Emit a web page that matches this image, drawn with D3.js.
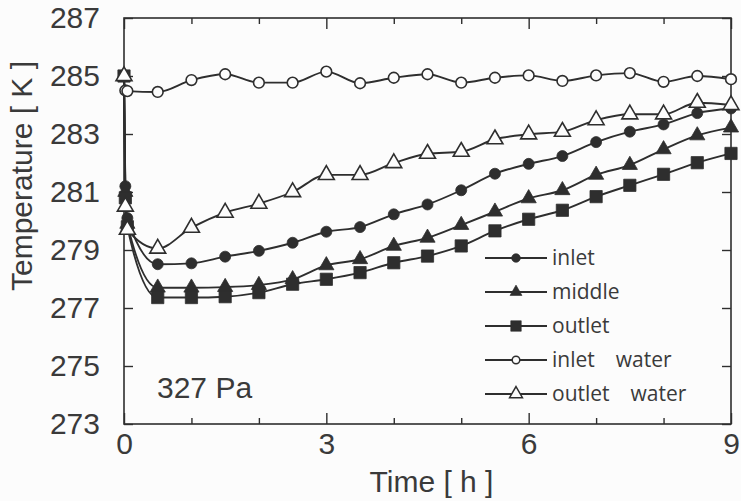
<!DOCTYPE html>
<html><head><meta charset="utf-8">
<script src="https://cdn.jsdelivr.net/npm/d3@7"></script>
<style>body{margin:0;background:#fcfcfc} svg{display:block}</style>
</head><body><svg id="c" width="741" height="501"></svg>
<script>
// ---- data ----
const earlyHours = [0, 0.02, 0.05];
const hours = [0.5,1,1.5,2,2.5,3,3.5,4,4.5,5,5.5,6,6.5,7,7.5,8,8.5,9];
const seriesNames = ["inlet", "middle", "outlet", "inlet\u3000water", "outlet\u3000water"];
const inletEarly = [285.0, 281.2, 280.1];
const middleEarly = [285.0, 281.0, 279.9];
const outletEarly = [285.0, 280.8, 279.8];
const inletWaterEarly = [285.0, 284.5, 284.48];
const outletWaterEarly = [285.0, 280.5, 279.7];
const inlet = [278.51,278.54,278.77,278.97,279.25,279.63,279.79,280.23,280.57,281.06,281.63,281.97,282.24,282.72,283.08,283.33,283.72,283.88];
const middle = [277.70,277.70,277.72,277.79,277.99,278.47,278.68,279.14,279.42,279.86,280.32,280.78,281.06,281.59,281.93,282.47,282.95,283.22];
const outlet = [277.36,277.36,277.39,277.53,277.82,277.99,278.22,278.56,278.79,279.14,279.66,280.06,280.37,280.84,281.23,281.61,282.01,282.33];
const inletWater = [284.45,284.86,285.06,284.77,284.77,285.15,284.75,284.94,285.06,284.77,284.94,285.02,284.83,285.02,285.10,284.80,285.00,284.89];
const outletWater = [279.05,279.77,280.29,280.60,281.00,281.59,281.59,282.00,282.32,282.39,282.82,282.99,283.08,283.48,283.68,283.68,284.08,284.00];
const xMajorTicks = [0, 3, 6, 9];
const xMinorTicks = [1, 2, 4, 5, 7, 8];
const yTicks = [273, 275, 277, 279, 281, 283, 285, 287];
const xTitle = "Time [ h ]";
const yTitle = "Temperature [ K ]";
const note = "327 Pa";

// ---- layout ----
const ink = "#2e2e2e";
const svg = d3.select("#c");
const L = 124, R = 731, T = 18, B = 424;
const x = d3.scaleLinear().domain([0, 9]).range([L, R]);
const y = d3.scaleLinear().domain([273, 287]).range([B, T]);
const font = "'Liberation Sans', Arial, sans-serif";

const series = [
  {name: seriesNames[0], early: inletEarly, vals: inlet, sym: d3.symbolCircle, size: 95, open: false, lsize: 60},
  {name: seriesNames[1], early: middleEarly, vals: middle, sym: d3.symbolTriangle, size: 100, open: false, lsize: 62},
  {name: seriesNames[2], early: outletEarly, vals: outlet, sym: d3.symbolSquare, size: 150, open: false, lsize: 110},
  {name: seriesNames[3], early: inletWaterEarly, vals: inletWater, sym: d3.symbolCircle, size: 90, open: true, lsize: 45},
  {name: seriesNames[4], early: outletWaterEarly, vals: outletWater, sym: d3.symbolTriangle, size: 110, open: true, lsize: 72}
];

// frame
svg.append("rect").attr("x", L).attr("y", T).attr("width", R - L).attr("height", B - T)
  .attr("fill", "none").attr("stroke", ink).attr("stroke-width", 1.6);

function styleAxis(g) {
  g.select(".domain").remove();
  g.selectAll("line").attr("stroke", ink).attr("stroke-width", 1.4);
  g.selectAll("text").attr("fill", "#3a3a3a").style("font-family", font).style("font-size", "30px");
}
// bottom axis
svg.append("g").attr("transform", `translate(0,${B})`)
  .call(d3.axisBottom(x).tickValues(xMajorTicks).tickSizeInner(-11).tickSizeOuter(0).tickPadding(9).tickFormat(d3.format("d")))
  .call(styleAxis);
svg.append("g").attr("transform", `translate(0,${B})`)
  .call(d3.axisBottom(x).tickValues(xMinorTicks).tickSizeInner(-6).tickSizeOuter(0).tickFormat(""))
  .call(styleAxis);
// top axis
svg.append("g").attr("transform", `translate(0,${T})`)
  .call(d3.axisTop(x).tickValues(xMajorTicks).tickSizeInner(-11).tickSizeOuter(0).tickFormat(""))
  .call(styleAxis);
svg.append("g").attr("transform", `translate(0,${T})`)
  .call(d3.axisTop(x).tickValues(xMinorTicks).tickSizeInner(-6).tickSizeOuter(0).tickFormat(""))
  .call(styleAxis);
// left axis
svg.append("g").attr("transform", `translate(${L},0)`)
  .call(d3.axisLeft(y).tickValues(yTicks).tickSizeInner(-9).tickSizeOuter(0).tickPadding(24).tickFormat(d3.format("d")))
  .call(styleAxis);
// right axis
svg.append("g").attr("transform", `translate(${R},0)`)
  .call(d3.axisRight(y).tickValues(yTicks).tickSizeInner(-9).tickSizeOuter(0).tickFormat(""))
  .call(styleAxis);

// titles
svg.append("text").attr("x", (L + R) / 2 + 4).attr("y", 492).attr("text-anchor", "middle")
  .attr("fill", "#3a3a3a").style("font-family", font).style("font-size", "30px").text(xTitle);
svg.append("text").attr("transform", `translate(32,${(T + B) / 2 - 45}) rotate(-90)`).attr("text-anchor", "middle")
  .attr("fill", "#3a3a3a").style("font-family", font).style("font-size", "30px").text(yTitle);
svg.append("text").attr("x", 157).attr("y", 398)
  .attr("fill", "#3a3a3a").style("font-family", font).style("font-size", "30px").text(note);

// lines
const line = d3.line().x(d => x(d[0])).y(d => y(d[1])).curve(d3.curveMonotoneX);
series.forEach(s => {
  s.pts = earlyHours.map((h, i) => [h, s.early[i]]).concat(hours.map((h, i) => [h, s.vals[i]]));
  svg.append("path").datum(s.pts).attr("d", line).attr("fill", "none")
    .attr("stroke", ink).attr("stroke-width", 1.9);
});
// markers
series.forEach(s => {
  svg.append("g").selectAll("path").data(s.pts).join("path")
    .attr("transform", d => `translate(${x(d[0])},${y(d[1])})`)
    .attr("d", d3.symbol().type(s.sym).size(s.size))
    .attr("fill", s.open ? "#fcfcfc" : ink)
    .attr("stroke", ink).attr("stroke-width", s.open ? 1.6 : 0.8);
});

// legend
const lg = svg.append("g");
series.forEach((s, i) => {
  const yy = 258 + i * 34;
  lg.append("line").attr("x1", 485).attr("x2", 547).attr("y1", yy).attr("y2", yy)
    .attr("stroke", ink).attr("stroke-width", 1.9);
  lg.append("path").attr("transform", `translate(516,${yy})`)
    .attr("d", d3.symbol().type(s.sym).size(s.lsize))
    .attr("fill", s.open ? "#fcfcfc" : ink).attr("stroke", ink).attr("stroke-width", s.open ? 1.5 : 0.6);
  lg.append("text").attr("x", 552).attr("y", yy + 7)
    .attr("fill", "#3a3a3a").style("font-family", "'Open Sans', 'Noto Sans', sans-serif")
    .style("font-size", "21px").text(s.name);
});
</script></body></html>
